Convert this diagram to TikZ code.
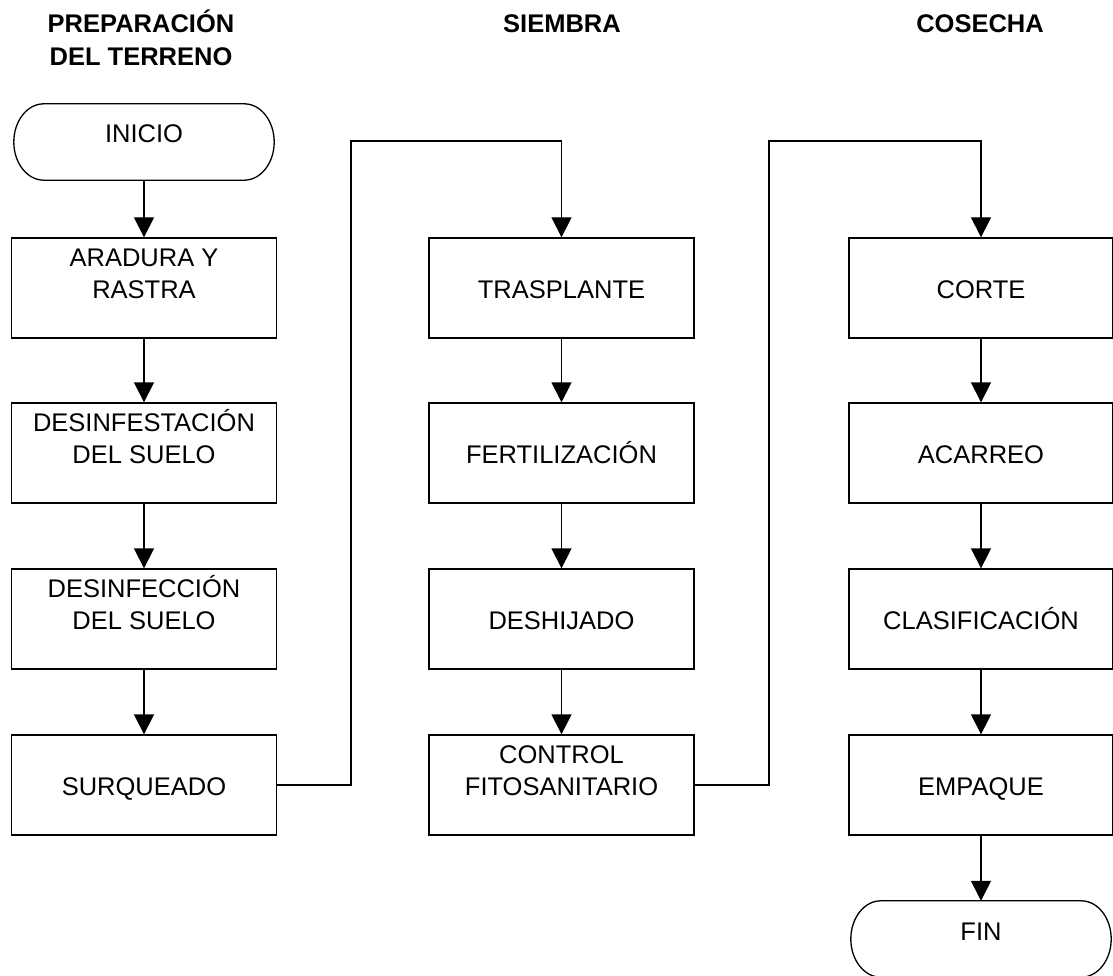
\documentclass[tikz,border=0pt]{standalone}
\usepackage{fontspec}
\setmainfont{Liberation Sans}
\usetikzlibrary{arrows.meta}
\newcommand\termoutline[1]{%
  \draw[line] ([xshift=30pt]#1.north west) -- ([xshift=-30pt]#1.north east)
    .. controls ([xshift=-13.4pt]#1.north east) and ([yshift=21pt]#1.east) .. (#1.east)
    .. controls ([yshift=-21pt]#1.east) and ([xshift=-13.4pt]#1.south east) .. ([xshift=-30pt]#1.south east)
    -- ([xshift=30pt]#1.south west)
    .. controls ([xshift=13.4pt]#1.south west) and ([yshift=-21pt]#1.west) .. (#1.west)
    .. controls ([yshift=21pt]#1.west) and ([xshift=13.4pt]#1.north west) .. ([xshift=30pt]#1.north west) -- cycle;}
\newcommand\twol[2]{\begin{tabular}[b]{@{}c@{}}#1\\#2\end{tabular}}
\begin{document}
\begin{tikzpicture}[x=1pt,y=-1pt,
  line/.style={line width=1.3pt},
  box/.style={draw,line width=1.3pt,minimum width=265pt,minimum height=100pt,inner sep=0pt,
    text height=21pt,text depth=0pt,font=\fontsize{25.5pt}{32pt}\selectfont},
  term/.style={minimum width=260pt,minimum height=76pt,inner sep=0pt,
    text height=2pt,text depth=0pt,font=\fontsize{25.5pt}{32pt}\selectfont},
  hdr/.style={font=\bfseries\fontsize{25.5pt}{33pt}\selectfont,inner sep=0pt,anchor=base},
  arr/.style={line width=1.3pt,-{Triangle[width=20pt,length=20pt]}}]
\useasboundingbox[fill=white] (0,0) rectangle (1113,976);

% headers
\node[hdr] (h1) at (141,33) {\begin{tabular}[t]{@{}c@{}}PREPARACIÓN\\DEL TERRENO\end{tabular}};
\node[hdr] (h2) at (562,33) {SIEMBRA};
\node[hdr] (h3) at (980,33) {COSECHA};

% column 1
\node[term] (inicio) at (144,142) {INICIO};
\termoutline{inicio}
\node[box] (a1) at (144,288) {\twol{ARADURA Y}{RASTRA}};
\node[box] (a2) at (144,453) {\twol{DESINFESTACIÓN}{DEL SUELO}};
\node[box] (a3) at (144,619) {\twol{DESINFECCIÓN}{DEL SUELO}};
\node[box] (a4) at (144,785) {SURQUEADO};

% column 2
\node[box] (b1) at (561.5,288) {TRASPLANTE};
\node[box] (b2) at (561.5,453) {FERTILIZACIÓN};
\node[box] (b3) at (561.5,619) {DESHIJADO};
\node[box] (b4) at (561.5,785) {\twol{CONTROL}{FITOSANITARIO}};

% column 3
\node[box,minimum width=264pt] (c1) at (981,288) {CORTE};
\node[box,minimum width=264pt] (c2) at (981,453) {ACARREO};
\node[box,minimum width=264pt] (c3) at (981,619) {CLASIFICACIÓN};
\node[box,minimum width=264pt] (c4) at (981,785) {EMPAQUE};
\node[term] (fin) at (981,939) {FIN};
\termoutline{fin}

% arrows
\draw[arr] (inicio) -- (a1);
\draw[arr] (a1) -- (a2);
\draw[arr] (a2) -- (a3);
\draw[arr] (a3) -- (a4);
\draw[arr] (b1) -- (b2);
\draw[arr] (b2) -- (b3);
\draw[arr] (b3) -- (b4);
\draw[arr] (c1) -- (c2);
\draw[arr] (c2) -- (c3);
\draw[arr] (c3) -- (c4);
\draw[arr] (c4) -- (fin);

\coordinate (k1) at (351,141);
\coordinate (k2) at (769,141);
\draw[arr] (a4.east) -| (k1) -| (b1.north);
\draw[arr] (b4.east) -| (k2) -| (c1.north);
\end{tikzpicture}
\end{document}
